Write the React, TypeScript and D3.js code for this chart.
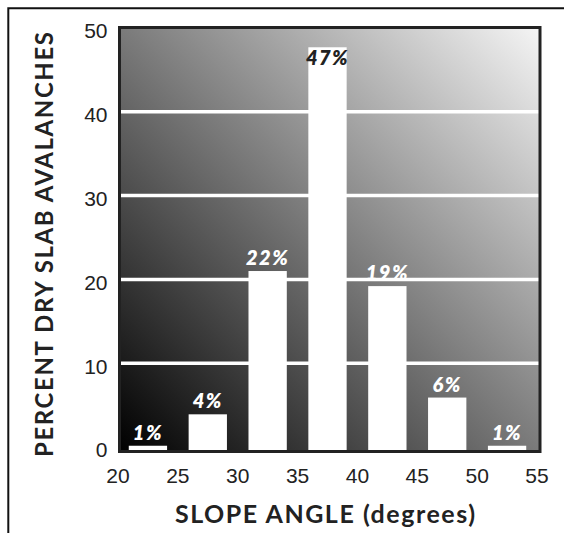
import * as d3 from 'd3'

// slope-angle bins (lower edge, degrees), bar heights, printed labels
const binStarts = [20, 25, 30, 35, 40, 45, 50]
const barValues = [0.15, 3.9, 21.0, 47.7, 19.2, 5.9, 0.15]
const barLabels = ['1%', '4%', '22%', '47%', '19%', '6%', '1%']
const yTicks = [0, 10, 20, 30, 40, 50]
const xTicks = [20, 25, 30, 35, 40, 45, 50, 55]

const width = 564
const height = 533
const plot = { left: 119.5, top: 27.5, right: 540, bottom: 451.5 }

export default function App() {
  const x = d3.scaleLinear().domain([20, 55]).range([118, 537])
  const y = d3.scaleLinear().domain([0, 50]).range([447, 28])
  const binWidth = 5

  const bars = binStarts.map((lo, i) => ({
    lo,
    value: barValues[i],
    label: barLabels[i],
  }))

  return (
    <svg
      width={width}
      height={height}
      style={{ position: 'fixed', left: 0, top: 0, background: '#fff' }}
    >
      <defs>
        <linearGradient id="bg" x1="0" y1="1" x2="1" y2="0">
          <stop offset="0" stopColor="#000" />
          <stop offset="1" stopColor="#f5f5f5" />
        </linearGradient>
      </defs>

      {/* outer frame (only top and left visible) */}
      <path d="M8.3,533 V8.3 H564" fill="none" stroke="#111" strokeWidth={2} />

      {/* plot background */}
      <rect
        x={plot.left}
        y={plot.top}
        width={plot.right - plot.left}
        height={plot.bottom - plot.top}
        fill="url(#bg)"
      />

      {/* grid */}
      {yTicks.filter(t => t > 0 && t < 50).map(t => (
        <line
          key={t}
          x1={plot.left}
          x2={plot.right}
          y1={y(t)}
          y2={y(t)}
          stroke="#fff"
          strokeWidth={3.5}
        />
      ))}

      {/* bars */}
      {bars.map(b => {
        const x0 = x(b.lo + 0.9)
        const x1 = x(b.lo + binWidth - 0.9)
        return (
          <rect
            key={b.lo}
            x={x0}
            y={y(b.value)}
            width={x1 - x0}
            height={plot.bottom - y(b.value)}
            fill="#fff"
          />
        )
      })}

      {/* bar labels */}
      {bars.map(b => {
        const cx = x(b.lo + binWidth / 2)
        const top = y(b.value)
        const inside = top - 20 < plot.top
        return (
          <text
            key={'l' + b.lo}
            x={cx}
            y={inside ? top + 18 : top - 6}
            textAnchor="middle"
            fill={inside ? '#222' : '#fff'}
            style={{
              fontFamily: 'Lato, sans-serif',
              fontWeight: 800,
              fontStyle: 'italic',
              fontSize: 20,
              letterSpacing: 1.5,
            }}
          >
            {b.label}
          </text>
        )
      })}

      {/* plot border */}
      <rect
        x={plot.left}
        y={plot.top}
        width={plot.right - plot.left}
        height={plot.bottom - plot.top}
        fill="none"
        stroke="#222"
        strokeWidth={3}
      />

      {/* y tick labels */}
      {yTicks.map(t => (
        <text
          key={'y' + t}
          x={107.5}
          y={y(t) + 3}
          dy="0.35em"
          textAnchor="end"
          fill="#222"
          style={{ fontFamily: '"Liberation Sans", Arial, sans-serif', fontSize: 21 }}
        >
          {t}
        </text>
      ))}

      {/* x tick labels */}
      {xTicks.map(t => (
        <text
          key={'x' + t}
          x={x(t)}
          y={483}
          textAnchor="middle"
          fill="#222"
          style={{ fontFamily: '"Liberation Sans", Arial, sans-serif', fontSize: 21 }}
        >
          {t}
        </text>
      ))}

      {/* axis titles */}
      <text
        x={325}
        y={523}
        textAnchor="middle"
        fill="#222"
        textLength={300}
        style={{ fontFamily: 'Lato, sans-serif', fontWeight: 700, fontSize: 25 }}
      >
        SLOPE ANGLE (degrees)
      </text>
      <text
        transform="translate(53,244.5) rotate(-90)"
        textAnchor="middle"
        fill="#222"
        textLength={425}
        style={{ fontFamily: 'Lato, sans-serif', fontWeight: 700, fontSize: 24 }}
      >
        PERCENT DRY SLAB AVALANCHES
      </text>
    </svg>
  )
}
